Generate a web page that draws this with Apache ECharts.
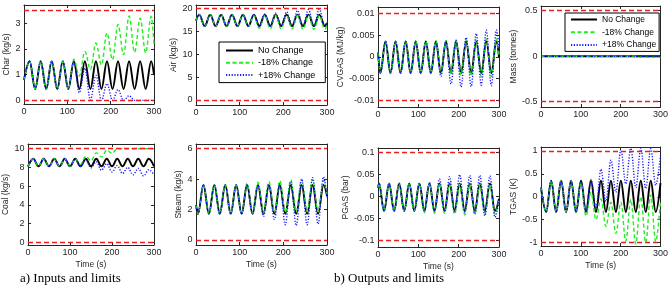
<!DOCTYPE html>
<html><head><meta charset="utf-8">
<script src="https://cdn.jsdelivr.net/npm/echarts@6/dist/echarts.min.js"></script>
<style>html,body{margin:0;padding:0;background:#fff}#c{width:671px;height:285px}</style>
</head><body><div id="c"></div>
<script>
// ---------------- data ----------------
const seriesNames = ['No Change', '-18% Change', '+18% Change'];
const timeTicks = [0, 100, 200, 300];

// Char (kg/s)
const tChar = [0, 13, 25.75, 38.5, 51.25, 64, 76.75, 89.5, 102.25, 115, 127.75, 140.5, 153.25, 166, 178.75, 191.5, 204.25, 217, 229.75, 242.5, 255.25, 268, 280.75, 293.5, 300];
const charBase  = [0.8, 1.52, 0.44, 1.52, 0.44, 1.52, 0.44, 1.52, 0.44, 1.52, 0.44, 1.52, 0.44, 1.52, 0.44, 1.52, 0.44, 1.52, 0.44, 1.52, 0.44, 1.52, 0.44, 1.52, 1.0];
const charMinus = [0.8, 1.52, 0.44, 1.52, 0.44, 1.52, 0.44, 1.52, 0.44, 1.6, 0.95, 1.9, 1.2, 2.23, 1.38, 2.62, 1.58, 2.95, 1.78, 3.28, 1.87, 3.2, 1.85, 3.27, 2.2];
const charPlus  = [0.8, 1.52, 0.44, 1.52, 0.44, 1.52, 0.44, 1.52, 0.44, 1.5, 0.3, 1.25, 0.02, 0.97, 0, 0.65, 0, 0.42, 0, 0.18, 0, 0, 0, 0, 0];
const charLimits = [0, 3.5];
const charTicks = [0, 1, 2, 3];

// Air (kg/s)
const tAir = [0, 7.5, 20, 32.5, 45, 57.5, 70, 82.5, 95, 107.5, 120, 132.5, 145, 157.5, 170, 182.5, 195, 207.5, 220, 232.5, 245, 257.5, 270, 282.5, 295, 300];
const airBase  = [17.3, 18.6, 16.1, 18.6, 16.1, 18.6, 16.1, 18.6, 16.1, 18.6, 16.1, 18.6, 16.1, 18.6, 16.1, 18.6, 16.1, 18.6, 16.1, 18.6, 16.1, 18.6, 16.1, 18.6, 16.1, 16.8];
const airMinus = [17.3, 18.6, 16.1, 18.6, 16.1, 18.6, 16.1, 18.6, 16.1, 18.6, 16.0, 18.5, 15.6, 18.5, 15.5, 18.5, 15.5, 18.4, 15.5, 18.4, 15.4, 18.4, 15.4, 18.4, 15.4, 16.3];
const airPlus  = [17.3, 18.6, 16.1, 18.6, 16.1, 18.6, 16.1, 18.6, 16.1, 18.6, 16.1, 18.6, 16.1, 18.7, 16.1, 18.9, 16.1, 19.2, 16.0, 19.5, 16.0, 19.7, 16.0, 19.8, 16.0, 17.0];
const airLimits = [0, 20];
const airTicks = [0, 5, 10, 15, 20];

// CVGAS (MJ/kg)
const tCv = [0, 6, 18.5, 31, 43.5, 56, 68.5, 81, 93.5, 106, 118.5, 131, 143.5, 156, 168.5, 181, 193.5, 206, 218.5, 231, 243.5, 256, 268.5, 281, 293.5, 300];
const cvBase  = [0.001, -0.0037, 0.0036, -0.0037, 0.0036, -0.0037, 0.0036, -0.0037, 0.0036, -0.0037, 0.0036, -0.0037, 0.0036, -0.0037, 0.0036, -0.0037, 0.0036, -0.0037, 0.0036, -0.0037, 0.0036, -0.0037, 0.0036, -0.0037, 0.0036, 0.0];
const cvMinus = [0.001, -0.0037, 0.0036, -0.0037, 0.0036, -0.0037, 0.0036, -0.0037, 0.0036, -0.0037, 0.0036, -0.0038, 0.0037, -0.0039, 0.0038, -0.004, 0.0039, -0.0042, 0.004, -0.0044, 0.0041, -0.0045, 0.0042, -0.0045, 0.0042, 0.0005];
const cvPlus  = [0.001, -0.0037, 0.0036, -0.0037, 0.0036, -0.0037, 0.0036, -0.0037, 0.0036, -0.0037, 0.0036, -0.0037, 0.0036, -0.0045, 0.0037, -0.0062, 0.0038, -0.0069, 0.0045, -0.0068, 0.0054, -0.0065, 0.0062, -0.0066, 0.0062, 0.002];
const cvLimits = [-0.01, 0.01];
const cvTicks = [-0.01, -0.005, 0, 0.005, 0.01];

// Mass (tonnes)
const tMass = [0, 240, 252, 300];
const massBase  = [0, 0, 0, 0];
const massMinus = [0, 0, -0.012, -0.012];
const massPlus  = [0, 0, 0, 0];
const massLimits = [-0.5, 0.5];
const massTicks = [-0.5, 0, 0.5];

// Coal (kg/s)
const tCoal = [0, 12.5, 25, 37.5, 50, 62.5, 75, 87.5, 100, 112.5, 125, 137.5, 150, 162.5, 175, 187.5, 200, 212.5, 225, 237.5, 250, 262.5, 275, 287.5, 300];
const coalBase  = [8.1, 8.92, 8.12, 8.92, 8.12, 8.92, 8.12, 8.92, 8.12, 8.92, 8.12, 8.92, 8.12, 8.92, 8.12, 8.92, 8.12, 8.92, 8.12, 8.92, 8.12, 8.92, 8.12, 8.92, 8.12];
const coalMinus = [8.1, 8.92, 8.12, 8.92, 8.12, 8.92, 8.12, 8.92, 8.12, 8.92, 8.3, 9.2, 8.7, 9.55, 9.1, 9.85, 9.5, 10, 10, 10, 10, 10, 10, 10, 10];
const coalPlus  = [8.1, 8.92, 8.12, 8.92, 8.12, 8.92, 8.12, 8.92, 8.12, 8.92, 8.12, 8.85, 7.95, 8.6, 7.7, 8.4, 7.5, 8.2, 7.35, 8.0, 7.2, 7.9, 7.1, 7.75, 7.2];
const coalLimits = [0, 10];
const coalTicks = [0, 2, 4, 6, 8, 10];

// Steam (kg/s)
const tSteam = [0, 4.5, 17, 29.5, 42, 54.5, 67, 79.5, 92, 104.5, 117, 129.5, 142, 154.5, 167, 179.5, 192, 204.5, 217, 229.5, 242, 254.5, 267, 279.5, 292, 300];
const steamBase  = [2.3, 1.72, 3.62, 1.72, 3.62, 1.72, 3.62, 1.72, 3.62, 1.72, 3.62, 1.72, 3.62, 1.72, 3.62, 1.72, 3.62, 1.72, 3.62, 1.72, 3.62, 1.72, 3.62, 1.72, 3.62, 2.9];
const steamMinus = [2.3, 1.72, 3.62, 1.72, 3.62, 1.72, 3.62, 1.72, 3.62, 1.72, 3.72, 1.75, 3.8, 1.78, 3.85, 1.8, 3.9, 1.82, 3.95, 1.84, 4.0, 1.85, 3.97, 1.86, 3.92, 3.0];
const steamPlus  = [2.3, 1.72, 3.62, 1.72, 3.62, 1.72, 3.62, 1.72, 3.62, 1.72, 3.62, 1.72, 3.62, 1.55, 3.65, 1.35, 3.7, 1.0, 3.85, 0.95, 4.0, 1.0, 4.1, 1.05, 4.15, 2.8];
const steamLimits = [0, 6];
const steamTicks = [0, 2, 4, 6];

// PGAS (bar)
const tP = [0, 2.5, 15, 27.5, 40, 52.5, 65, 77.5, 90, 102.5, 115, 127.5, 140, 152.5, 165, 177.5, 190, 202.5, 215, 227.5, 240, 252.5, 265, 277.5, 290, 300];
const pBase  = [0.02, 0.03, -0.033, 0.03, -0.033, 0.03, -0.033, 0.03, -0.033, 0.03, -0.033, 0.03, -0.033, 0.03, -0.033, 0.03, -0.033, 0.03, -0.033, 0.03, -0.033, 0.03, -0.033, 0.03, -0.033, -0.005];
const pMinus = [0.02, 0.03, -0.033, 0.03, -0.033, 0.03, -0.033, 0.03, -0.033, 0.03, -0.037, 0.029, -0.038, 0.029, -0.038, 0.028, -0.04, 0.028, -0.042, 0.028, -0.04, 0.028, -0.04, 0.028, -0.04, -0.008];
const pPlus  = [0.02, 0.03, -0.033, 0.03, -0.033, 0.03, -0.033, 0.03, -0.033, 0.03, -0.033, 0.032, -0.033, 0.04, -0.034, 0.045, -0.035, 0.05, -0.037, 0.048, -0.04, 0.048, -0.044, 0.047, -0.047, -0.008];
const pLimits = [-0.1, 0.1];
const pTicks = [-0.1, -0.05, 0, 0.05, 0.1];

// TGAS (K)
const tT = [0, 13, 25.5, 38, 50.5, 63, 75.5, 88, 100.5, 113, 125.5, 138, 150.5, 163, 175.5, 188, 200.5, 213, 225.5, 238, 250.5, 263, 275.5, 288, 300];
const tgBase  = [0.2, -0.33, 0.35, -0.33, 0.35, -0.33, 0.35, -0.33, 0.35, -0.33, 0.35, -0.33, 0.35, -0.33, 0.35, -0.33, 0.35, -0.33, 0.35, -0.33, 0.35, -0.33, 0.35, -0.33, 0.3];
const tgMinus = [0.2, -0.33, 0.35, -0.33, 0.35, -0.33, 0.35, -0.33, 0.3, -0.42, 0.1, -0.5, -0.05, -0.65, -0.12, -0.8, -0.12, -0.97, -0.06, -1.03, 0.0, -1.0, 0.04, -0.98, -0.1];
const tgPlus  = [0.2, -0.33, 0.35, -0.33, 0.35, -0.33, 0.35, -0.33, 0.35, -0.33, 0.38, -0.25, 0.6, -0.1, 0.8, 0.1, 1.03, 0.28, 1.06, 0.2, 1.06, 0.18, 1.05, 0.25, 0.9];
const tgLimits = [-1, 1];
const tgTicks = [-1, -0.5, 0, 0.5, 1];

// ---------------- layout / style ----------------
const FONT = '"Liberation Sans", Arial, sans-serif';
const AX = '#262626';
const panels = [
  {title:'Char (kg/s)',   t:tChar,  s:[charBase, charMinus, charPlus],    lim:charLimits,  ticks:charTicks,  min:-0.14,   max:3.71,   box:[24, 5, 130, 99],   gap:10.5, time:false},
  {title:'Air (kg/s)',    t:tAir,   s:[airBase, airMinus, airPlus],       lim:airLimits,   ticks:airTicks,   min:-1.1,    max:20.7,   box:[196, 5, 131, 100], gap:17,  time:false},
  {title:'CVGAS (MJ/kg)', t:tCv,    s:[cvBase, cvMinus, cvPlus],          lim:cvLimits,    ticks:cvTicks,    min:-0.0115, max:0.0115, box:[378, 7, 121, 100], gap:28,  time:false},
  {title:'Mass (tonnes)', t:tMass,  s:[massBase, massMinus, massPlus],    lim:massLimits,  ticks:massTicks,  min:-0.558,  max:0.552,  box:[541, 6, 120, 101], gap:21,  time:false},
  {title:'Coal (kg/s)',   t:tCoal,  s:[coalBase, coalMinus, coalPlus],    lim:coalLimits,  ticks:coalTicks,  min:-0.29,   max:10.5,   box:[24, 144, 130, 101], gap:18, time:true},
  {title:'Steam (kg/s)',  t:tSteam, s:[steamBase, steamMinus, steamPlus], lim:steamLimits, ticks:steamTicks, min:-0.33,   max:6.31,   box:[196, 144, 131, 101], gap:12, time:true},
  {title:'PGAS (bar)',    t:tP,     s:[pBase, pMinus, pPlus],             lim:pLimits,     ticks:pTicks,     min:-0.115,  max:0.1105, box:[378, 148, 121, 99], gap:26, time:true},
  {title:'TGAS (K)',      t:tT,     s:[tgBase, tgMinus, tgPlus],          lim:tgLimits,    ticks:tgTicks,    min:-1.075,  max:1.087,  box:[541, 147, 120, 99], gap:20, time:true}
];
const lineStyles = [
  {color:'#000000', width:1.9, type:'solid'},
  {color:'#22ee22', width:1.4, type:[4, 2.5]},
  {color:'#1a1aff', width:1.4, type:[1.2, 1.6]}
];
const limitStyle = {color:'#ee1c1c', width:1.4, type:[5, 3]};

const grid = [], xAxis = [], yAxis = [], series = [];
const N = panels.length;
const tickBase = {inside:true, length:3, lineStyle:{color:AX, width:1}};
const lineBase = {show:true, onZero:false, lineStyle:{color:AX, width:1}};
panels.forEach((p, i) => {
  grid.push({left:p.box[0], top:p.box[1], width:p.box[2], height:p.box[3]});
  xAxis[i] = {type:'value', gridIndex:i, min:0, max:300, interval:100, position:'bottom',
    axisLine:lineBase, axisTick:tickBase, splitLine:{show:false},
    axisLabel:{margin:3, fontSize:9, color:AX, fontFamily:FONT, customValues:timeTicks},
    name:p.time ? 'Time (s)' : '', nameLocation:'middle', nameGap:15,
    nameTextStyle:{fontSize:8.5, color:AX, fontFamily:FONT}};
  xAxis[N + i] = {type:'value', gridIndex:i, min:0, max:300, interval:100, position:'top',
    axisLine:lineBase, axisTick:tickBase, splitLine:{show:false}, axisLabel:{show:false}};
  yAxis[i] = {type:'value', gridIndex:i, min:p.min, max:p.max, position:'left',
    axisLine:lineBase, axisTick:Object.assign({customValues:p.ticks}, tickBase), splitLine:{show:false},
    axisLabel:{margin:3.5, fontSize:9, color:AX, fontFamily:FONT, customValues:p.ticks},
    name:p.title, nameLocation:'middle', nameGap:p.gap,
    nameTextStyle:{fontSize:8.5, color:AX, fontFamily:FONT}};
  yAxis[N + i] = {type:'value', gridIndex:i, min:p.min, max:p.max, position:'right',
    axisLine:lineBase, axisTick:Object.assign({customValues:p.ticks}, tickBase), splitLine:{show:false},
    axisLabel:{show:false}};
  p.s.forEach((vals, k) => {
    const s = {type:'line', name:seriesNames[k], xAxisIndex:i, yAxisIndex:i,
      data:p.t.map((x, j) => [x, vals[j]]),
      symbol:'none', showSymbol:false, smooth:0.36, smoothMonotone:'x',
      lineStyle:lineStyles[k], itemStyle:{color:lineStyles[k].color}, z:2 + k, silent:true, animation:false};
    if (k === 0) {
      s.markLine = {symbol:'none', silent:true, animation:false, label:{show:false},
        lineStyle:limitStyle, emphasis:{disabled:true},
        data:p.lim.map(v => ({yAxis:v}))};
    }
    series.push(s);
  });
});

const legendBase = {data:seriesNames, orient:'vertical', itemHeight:10,
  backgroundColor:'#fff', borderColor:'#000', borderWidth:1, borderRadius:0,
  itemStyle:{color:'rgba(0,0,0,0)', borderWidth:0, opacity:0},
  selectedMode:false, z:10};
const option = {
  animation:false,
  backgroundColor:'#fff',
  grid, xAxis, yAxis, series,
  legend:[
    Object.assign({left:219, top:42, padding:[4, 10, 3, 6], itemGap:3.3, itemWidth:27,
      textStyle:{fontSize:9, color:'#000', fontFamily:FONT}}, legendBase),
    Object.assign({left:565, top:13, padding:[2, 3, 2, 5], itemGap:3.7, itemWidth:26,
      textStyle:{fontSize:8.5, color:'#000', fontFamily:FONT}}, legendBase)
  ],
  graphic:[
    {type:'text', left:20, top:272.5, style:{text:'a) Inputs and limits', font:'13px "Liberation Serif", "Times New Roman", serif', fill:'#000'}},
    {type:'text', left:334, top:272.5, style:{text:'b) Outputs and limits', font:'13px "Liberation Serif", "Times New Roman", serif', fill:'#000'}}
  ]
};
const chart = echarts.init(document.getElementById('c'), null, {renderer:'canvas'});
chart.setOption(option);
</script>
</body></html>
